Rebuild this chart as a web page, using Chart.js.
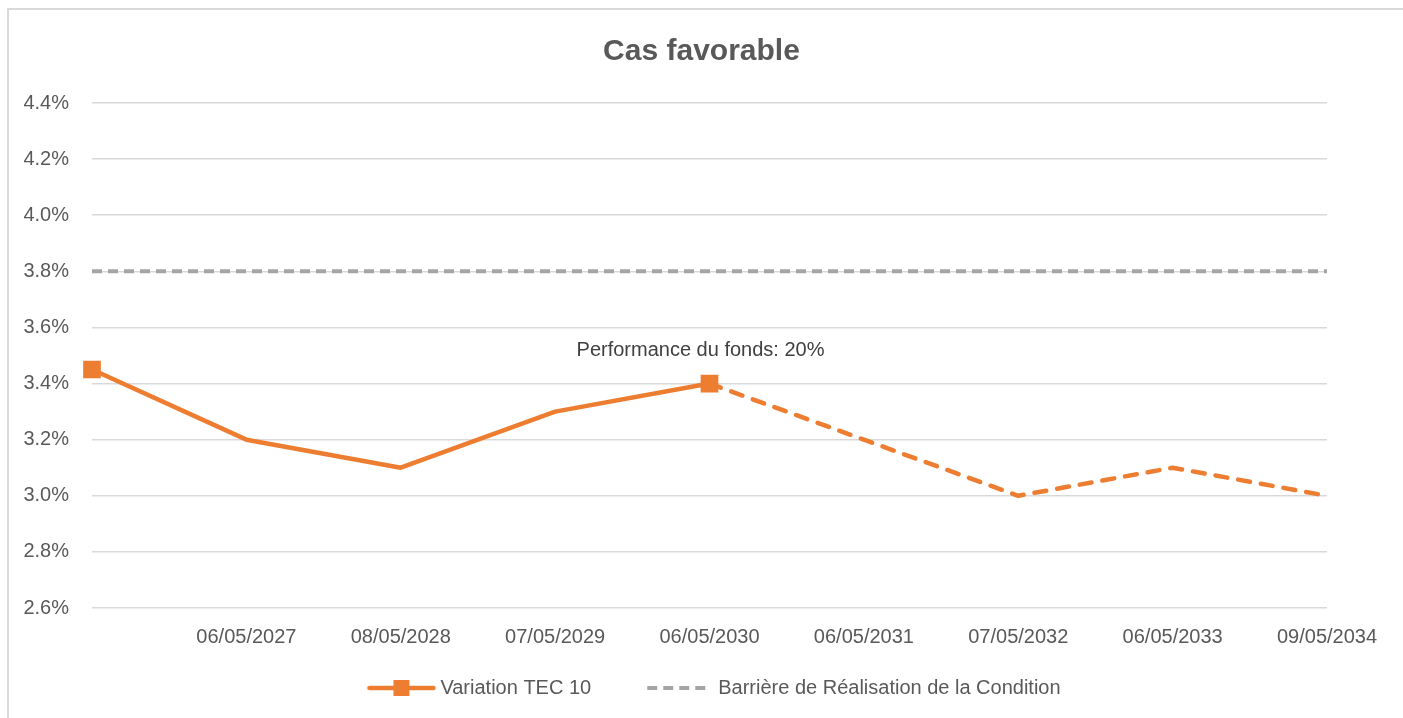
<!DOCTYPE html>
<html>
<head>
<meta charset="utf-8">
<script src="https://cdn.jsdelivr.net/npm/chart.js@4.4.1/dist/chart.umd.min.js"></script>
<style>
    html, body { margin: 0; padding: 0; background: #fff; }
    #wrap { position: relative; width: 1403px; height: 718px; }
    #cadre { position: absolute; left: 7px; top: 8px; right: 0; bottom: 0;
             border-left: 2px solid #d9d9d9; border-top: 2px solid #d9d9d9; }
    canvas { position: absolute; left: 0; top: 0; }
</style>
</head>
<body>
<div id="wrap">
    <div id="cadre"></div>
    <canvas id="lineChart" width="1403" height="718"></canvas>
</div>
<script>
// donnees du graphique
var dates = ['', '06/05/2027', '08/05/2028', '07/05/2029', '06/05/2030',
             '06/05/2031', '07/05/2032', '06/05/2033', '09/05/2034'];
var variationTec10 = [3.45, 3.2, 3.1, 3.3, 3.4, 3.2, 3.0, 3.1, 3.0];
var barriere = [3.8, 3.8, 3.8, 3.8, 3.8, 3.8, 3.8, 3.8, 3.8];
var indicePerformance = 4; // point ou la performance est constatee
var textePerformance = 'Performance du fonds: 20%';
var yMin = 2.6, yMax = 4.4, yPas = 0.2;

var orange = '#ED7D31';
var gris = '#A5A5A5';
var texte = '#595959';
var police = "'Liberation Sans', Arial, sans-serif";

// largeur reservee au symbole dans la legende
var largeurSymbole = 88;

// symbole de legende (ligne + marqueur) dessine dans un petit canvas,
// cale a droite pour laisser de l'espace entre les deux entrees
function symboleLegende(couleur, tirets, carre) {
    var c = document.createElement('canvas');
    c.width = largeurSymbole + 12;
    c.height = 20;
    var x0 = c.width - 70;
    var g = c.getContext('2d');
    g.strokeStyle = couleur;
    g.lineWidth = 4.5;
    if (tirets) {
        g.lineWidth = 4;
        g.setLineDash([10, 6]);
    } else {
        g.lineCap = 'round';
    }
    g.beginPath();
    g.moveTo(x0 + 3, 10);
    g.lineTo(x0 + 67, 10);
    g.stroke();
    if (carre) {
        g.fillStyle = couleur;
        g.fillRect(x0 + 27, 2, 16, 16);
    }
    return c;
}
var symboles = [symboleLegende(orange, false, true), symboleLegende(gris, true, false)];

// etiquette au dessus du point de performance
var etiquettePerformance = {
    id: 'etiquettePerformance',
    afterDatasetsDraw: function(chart) {
        var pt = chart.getDatasetMeta(0).data[indicePerformance];
        var ctx = chart.ctx;
        ctx.save();
        ctx.font = '20px ' + police;
        ctx.fillStyle = '#404040';
        ctx.textAlign = 'center';
        ctx.textBaseline = 'middle';
        ctx.fillText(textePerformance, pt.x - 9, pt.y - 33);
        ctx.restore();
    }
};

var rayons = variationTec10.map(function(v, i) {
    return (i === 0 || i === indicePerformance) ? 12.5 : 0;
});

var ctx = document.getElementById('lineChart').getContext('2d');

var lineChart = new Chart(ctx, {
    type: 'line',
    data: {
        labels: dates,
        datasets: [{
            label: 'Variation TEC 10',
            data: variationTec10,
            borderColor: orange,
            backgroundColor: orange,
            borderWidth: 4.5,
            borderCapStyle: 'round',
            borderJoinStyle: 'round',
            pointStyle: 'rect',
            pointRadius: rayons,
            pointHoverRadius: rayons,
            pointBorderWidth: 0,
            tension: 0,
            segment: {
                borderDash: function(c) {
                    return c.p0DataIndex >= indicePerformance ? [12, 11] : undefined;
                }
            }
        }, {
            label: 'Barrière de Réalisation de la Condition',
            data: barriere,
            borderColor: gris,
            backgroundColor: gris,
            borderWidth: 4,
            borderDash: [10, 6],
            pointRadius: 0,
            pointHoverRadius: 0
        }]
    },
    options: {
        responsive: false,
        animation: false,
        layout: {
            padding: { left: 0, right: 0, top: 8, bottom: 10 }
        },
        scales: {
            x: {
                grid: { display: false, drawTicks: false },
                border: { display: false },
                ticks: {
                    color: texte,
                    font: { family: police, size: 20 },
                    padding: 17,
                    maxRotation: 0,
                    autoSkip: false
                },
                afterFit: function(scale) { scale.height = 41; }
            },
            y: {
                min: yMin,
                max: yMax,
                grid: { color: '#D9D9D9', lineWidth: 1.5, drawTicks: false },
                border: { display: false },
                ticks: {
                    stepSize: yPas,
                    color: texte,
                    font: { family: police, size: 20 },
                    padding: 23,
                    callback: function(v) { return v.toFixed(1) + '%'; }
                },
                afterFit: function(scale) { scale.width = 92; }
            },
            droite: {
                position: 'right',
                grid: { display: false, drawTicks: false },
                border: { display: false },
                ticks: { display: false },
                afterFit: function(scale) { scale.width = 76; }
            }
        },
        plugins: {
            title: {
                display: true,
                text: 'Cas favorable',
                color: texte,
                font: { family: police, size: 30, weight: 'bold' },
                padding: { top: 26, bottom: 33 }
            },
            legend: {
                position: 'bottom',
                labels: {
                    usePointStyle: true,
                    pointStyleWidth: largeurSymbole,
                    padding: 29,
                    color: texte,
                    font: { family: police, size: 20 },
                    generateLabels: function(chart) {
                        var items = Chart.defaults.plugins.legend.labels.generateLabels(chart);
                        items.forEach(function(it, i) { it.pointStyle = symboles[i]; });
                        return items;
                    }
                }
            },
            tooltip: { enabled: false }
        }
    },
    plugins: [etiquettePerformance]
});
</script>
</body>
</html>
